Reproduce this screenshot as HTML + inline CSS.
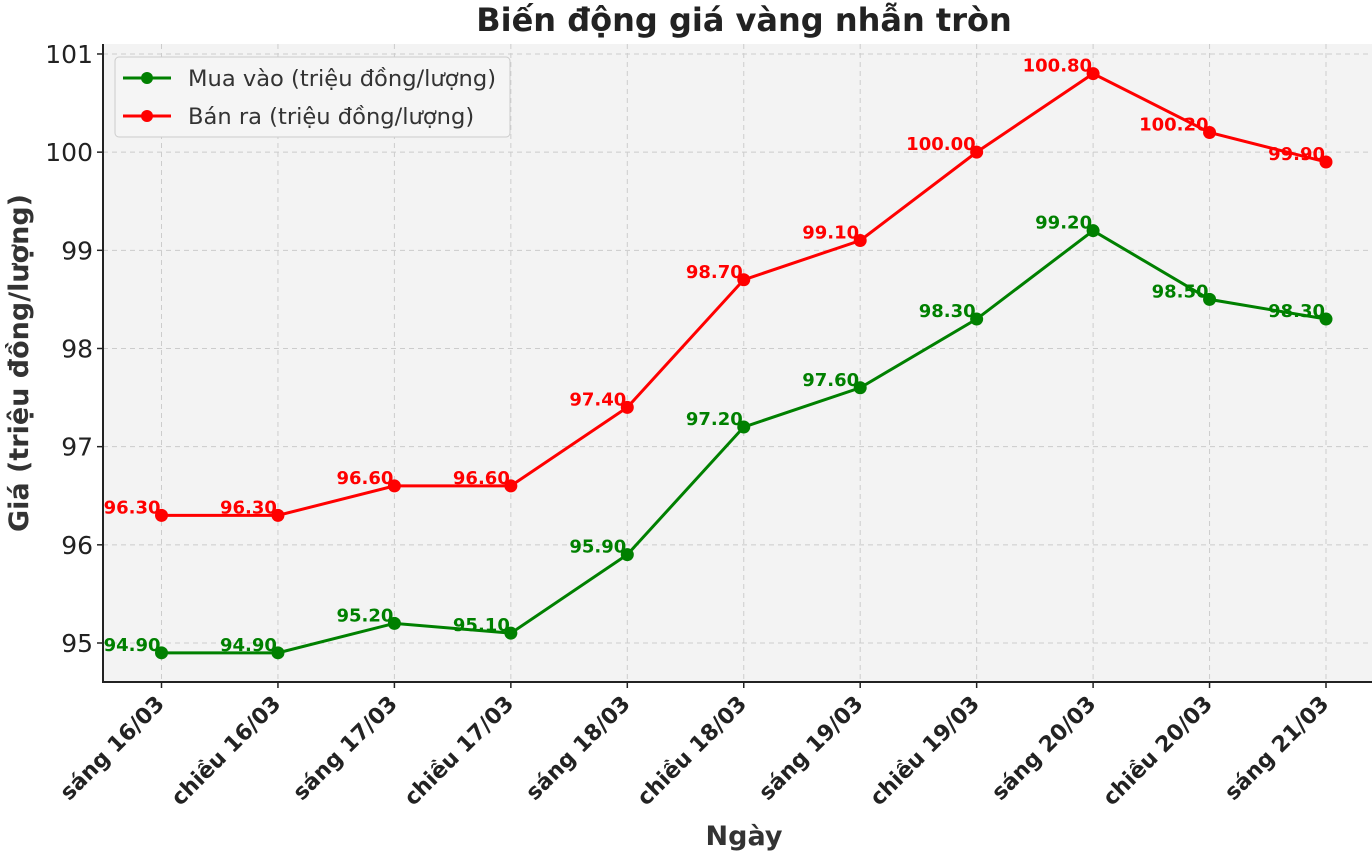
<!DOCTYPE html>
<html><head><meta charset="utf-8"><style>
html,body{margin:0;padding:0;background:#fff}
svg{display:block;font-family:"DejaVu Sans","Liberation Sans",sans-serif}
</style></head><body>
<svg id="chart" width="1372" height="857" viewBox="0 0 1372 857">
<text x="744" y="31" text-anchor="middle" font-size="32" font-weight="bold" fill="#222">Biến động giá vàng nhẫn tròn</text>
<rect x="103" y="44" width="1269" height="638" fill="#f3f3f3"/>
<g id="grid"></g><g id="axes"></g><g id="series"></g>
<text x="744" y="845" text-anchor="middle" font-size="27" font-weight="bold" fill="#333">Ngày</text>
<text transform="translate(28,363) rotate(-90)" text-anchor="middle" font-size="27" font-weight="bold" fill="#333">Giá (triệu đồng/lượng)</text>
<g>
<rect x="115" y="57" width="395" height="80" rx="4" fill="#f5f5f5" stroke="#ccc"/>
<line x1="123" y1="78" x2="171" y2="78" stroke="#008000" stroke-width="3"/>
<circle cx="147" cy="78" r="6" fill="#008000"/>
<text x="188" y="86" font-size="22.6" fill="#333">Mua vào (triệu đồng/lượng)</text>
<line x1="123" y1="116" x2="171" y2="116" stroke="#ff0000" stroke-width="3"/>
<circle cx="147" cy="116" r="6" fill="#ff0000"/>
<text x="188" y="124" font-size="22.6" fill="#333">Bán ra (triệu đồng/lượng)</text>
</g>
</svg>
<script>
const categories = ["sáng 16/03","chiều 16/03","sáng 17/03","chiều 17/03","sáng 18/03","chiều 18/03","sáng 19/03","chiều 19/03","sáng 20/03","chiều 20/03","sáng 21/03"];
const buyValues = [94.9,94.9,95.2,95.1,95.9,97.2,97.6,98.3,99.2,98.5,98.3];
const sellValues = [96.3,96.3,96.6,96.6,97.4,98.7,99.1,100.0,100.8,100.2,99.9];
const yTicks = [95,96,97,98,99,100,101];

const NS = "http://www.w3.org/2000/svg";
const x0 = 161.5, xStep = 116.45;
function xScale(i){ return x0 + i*xStep; }
function yScale(v){ return 643 - (v-95)*98.17; }
function mk(tag, attrs, parent){ const e=document.createElementNS(NS,tag); for(const k in attrs) e.setAttribute(k,attrs[k]); parent.appendChild(e); return e; }
const grid=document.getElementById('grid'), axes=document.getElementById('axes'), series=document.getElementById('series');

categories.forEach((c,i)=>{
  const x=xScale(i);
  const g=mk('line',{x1:x,y1:44,x2:x,y2:682,stroke:'#ccc','stroke-dasharray':'5,4','stroke-width':1},grid);
  
  
  const t=mk('line',{x1:x,y1:682,x2:x,y2:688,stroke:'#222','stroke-width':1.5},axes);
  
  
  const lb=mk('text',{x:x+4,y:705,'text-anchor':'end','font-size':22,'font-weight':'bold',fill:'#222',transform:`rotate(-45 ${x+4} 705)`},axes);
  lb.textContent=c;
  
  
});
yTicks.forEach(v=>{
  const y=yScale(v);
  const g=mk('line',{x1:103,y1:y,x2:1372,y2:y,stroke:'#ccc','stroke-dasharray':'5,4','stroke-width':1},grid);
  
  
  const t=mk('line',{x1:97,y1:y,x2:103,y2:y,stroke:'#222','stroke-width':1.5},axes);
  
  
  const lb=mk('text',{x:93,y:y+9,'text-anchor':'end','font-size':25,fill:'#222'},axes);
  lb.textContent=v;
  
  
});
const ax=mk('path',{d:'M103,44 V682 H1372',fill:'none',stroke:'#222','stroke-width':2},axes);



function drawSeries(vals,color,name){
  const pts=vals.map((v,i)=>xScale(i)+','+yScale(v)).join(' ');
  const pl=mk('polyline',{points:pts,fill:'none',stroke:color,'stroke-width':3},series);
  
  
  vals.forEach((v,i)=>{
    const c=mk('circle',{cx:xScale(i),cy:yScale(v),r:6.5,fill:color},series);
    
    
    const t=mk('text',{x:xScale(i)-1,y:yScale(v)-2,'text-anchor':'end','font-size':18,'font-weight':'bold',fill:color},series);
    t.textContent=v.toFixed(2);
    
    
  });
}
drawSeries(buyValues,'#008000','buy');
drawSeries(sellValues,'#ff0000','sell');
</script>
</body></html>
